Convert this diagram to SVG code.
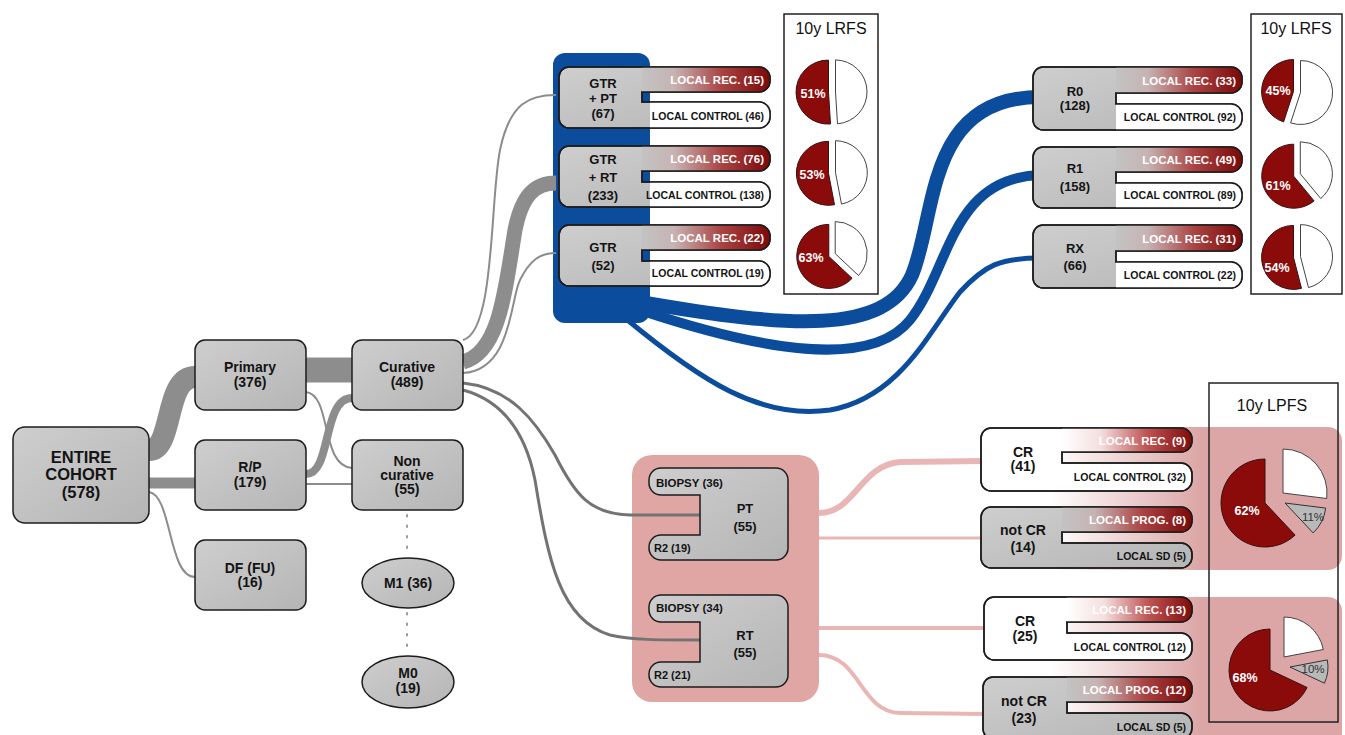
<svg xmlns="http://www.w3.org/2000/svg" width="1345" height="735" viewBox="0 0 1345 735">
<defs>
<linearGradient id="gGray" x1="0" y1="0" x2="1" y2="1"><stop offset="0" stop-color="#cecece"/><stop offset="1" stop-color="#b5b5b5"/></linearGradient>
<linearGradient id="gRecG" x1="0" y1="0" x2="1" y2="0"><stop offset="0" stop-color="#c3c3c3"/><stop offset="0.25" stop-color="#c7b3b3"/><stop offset="0.62" stop-color="#ab4343"/><stop offset="1" stop-color="#7c0909"/></linearGradient>
<linearGradient id="gRecW" x1="0" y1="0" x2="1" y2="0"><stop offset="0" stop-color="#ffffff"/><stop offset="0.3" stop-color="#f5dede"/><stop offset="0.65" stop-color="#c05454"/><stop offset="1" stop-color="#810b0b"/></linearGradient>
<linearGradient id="gBand" x1="1050" y1="0" x2="1200" y2="0" gradientUnits="userSpaceOnUse"><stop offset="0" stop-color="#dca6a6" stop-opacity="0"/><stop offset="1" stop-color="#dca6a6"/></linearGradient>
</defs>
<style>
.lbl{font-family:'Liberation Sans',Arial,Helvetica,sans-serif;font-weight:bold;text-anchor:middle;fill:#141414}
.f14{font-size:14px}
.f13{font-size:13px}
.f17{font-size:16.5px}
.sm{font-size:11.5px;text-anchor:start}
.rec{font-family:'Liberation Sans',Arial,sans-serif;font-weight:bold;font-size:11.5px;fill:#fff;text-anchor:end}
.ctl{font-family:'Liberation Sans',Arial,sans-serif;font-weight:bold;font-size:10.5px;fill:#141414;text-anchor:end}
.box{fill:url(#gGray);stroke:#1c1c1c;stroke-width:1.5}
.wbox{fill:#fff;stroke:#1c1c1c;stroke-width:1.5}
.outline{fill:none;stroke:#1c1c1c;stroke-width:1.5}
.tabR{fill:url(#gRecG)}
.tabW{fill:url(#gRecW)}
.white{fill:#fff}
.band{fill:none;stroke:#8d8d8d}
.thin{fill:none;stroke:#8c8c8c;stroke-width:2}
.dark{fill:none;stroke:#737373;stroke-width:3}
.blue{fill:none;stroke:#0b4c9c}
.pink{fill:none;stroke:#e8b7b5}
.pieR{fill:#8b0b0b;stroke:#3a1010;stroke-width:1}
.pieW{fill:#fff;stroke:#444;stroke-width:1}
.pieG{fill:#b9b9b9;stroke:#333;stroke-width:1}
.pct{font-family:'Liberation Sans',Arial,sans-serif;font-weight:bold;font-size:12.5px;fill:#fff;text-anchor:middle}
.pctd{font-family:'Liberation Sans',Arial,sans-serif;font-size:11.5px;fill:#333;text-anchor:middle}
.frame{fill:#fff;stroke:#222;stroke-width:1.5}
.title{font-family:'Liberation Sans',Arial,sans-serif;font-size:16px;fill:#111;text-anchor:middle}
.dots{stroke:#9a9a9a;stroke-width:2;stroke-dasharray:1.5 9;stroke-linecap:round}
</style>
<rect width="1345" height="735" fill="#fff"/>
<g id="backgrounds">
<rect x="1050" y="427" width="292" height="143" rx="14" fill="url(#gBand)"/>
<rect x="1050" y="597" width="292" height="150" rx="14" fill="url(#gBand)"/>
<rect x="553" y="53" width="97" height="270" rx="12" fill="#0b4c9c"/>
<rect x="632" y="455" width="187" height="247" rx="20" fill="#dfa6a3"/>
</g>
<g id="connectors">
<path class="band" stroke-width="22" d="M149,450 C174,450 164,377 195,377"/>
<path class="band" stroke-width="11" d="M149,483 H195"/>
<path class="thin" d="M149,492 C172,495 168,577 195,577"/>
<path class="band" stroke-width="25" d="M306,370 H352"/>
<path class="thin" d="M306,392 C332,395 320,466 352,468"/>
<path class="band" stroke-width="8" d="M306,474 C332,474 322,398 352,398"/>
<path class="thin" stroke-width="3" d="M306,484 H352"/>
<line class="dots" x1="407" y1="515" x2="407" y2="555"/>
<line class="dots" x1="407" y1="613" x2="407" y2="653"/>
<path class="thin" d="M463,340 C495,332 490,200 500,150 C510,102 530,95 556,95"/>
<path class="band" stroke-width="15" d="M463,362 C500,352 505,290 515,230 C522,195 535,183 556,183"/>
<path class="thin" d="M463,373 C512,370 510,300 520,280 C530,260 540,253 556,253"/>
<path class="dark" d="M463,383 C510,388 535,420 555,455 C575,495 590,514 630,515 L700,515"/>
<path class="dark" d="M463,390 C500,400 525,430 535,480 C548,560 560,620 610,635 C630,640 660,640 700,640"/>
<path class="blue" stroke-width="14" d="M640,302 C790,328 885,335 912,275 C937,215 925,97 1040,97"/>
<path class="blue" stroke-width="10" d="M640,310 C760,350 870,370 910,320 C950,270 950,178 1040,175"/>
<path class="blue" stroke-width="5" d="M625,318 C700,380 760,420 830,410 C900,398 930,330 960,292 C985,265 1000,258 1040,258"/>
<path class="pink" stroke-width="6" d="M819,513 C855,513 860,465 900,462 L985,461"/>
<path class="pink" stroke-width="3" d="M819,538 H985"/>
<path class="pink" stroke-width="4" d="M819,628 H988"/>
<path class="pink" stroke-width="4" d="M819,655 C860,655 860,712 900,713 L988,714"/>
</g>
<g id="n-entire"><rect class="box" x="13" y="427" width="136" height="96" rx="12"/>
<text class="lbl f17" x="81" y="463">ENTIRE</text><text class="lbl f17" x="81" y="480">COHORT</text><text class="lbl f17" x="81" y="498">(578)</text></g>
<g id="n-primary"><rect class="box" x="195" y="340" width="111" height="70" rx="10"/>
<text class="lbl f14" x="250" y="372">Primary</text><text class="lbl f14" x="250" y="387">(376)</text></g>
<g id="n-rp"><rect class="box" x="195" y="440" width="111" height="70" rx="10"/>
<text class="lbl f14" x="250" y="472">R/P</text><text class="lbl f14" x="250" y="487">(179)</text></g>
<g id="n-df"><rect class="box" x="195" y="540" width="111" height="70" rx="10"/>
<text class="lbl f14" x="250" y="573">DF (FU)</text><text class="lbl f14" x="250" y="587">(16)</text></g>
<g id="n-curative"><rect class="box" x="352" y="340" width="111" height="70" rx="10"/>
<text class="lbl f14" x="407" y="372">Curative</text><text class="lbl f14" x="407" y="387">(489)</text></g>
<g id="n-noncurative"><rect class="box" x="352" y="440" width="111" height="70" rx="10"/>
<text class="lbl f14" x="407" y="466">Non</text><text class="lbl f14" x="407" y="480">curative</text><text class="lbl f14" x="407" y="494">(55)</text></g>
<g id="n-m1"><ellipse class="box" cx="408" cy="583" rx="46" ry="25"/><text class="lbl f14" x="408" y="588">M1 (36)</text></g>
<g id="n-m0"><ellipse class="box" cx="408" cy="682" rx="46" ry="26"/><text class="lbl f14" x="408" y="678">M0</text><text class="lbl f14" x="408" y="693">(19)</text></g>
<g id="n-gtrpt">
<path class="box" d="M569,67 H759 A11,11 0 0 1 770,78 V81 A11,11 0 0 1 759,92 H642 V102 H759 A11,11 0 0 1 770,113 V117 A11,11 0 0 1 759,128 H569 A10,10 0 0 1 559,118 V77 A10,10 0 0 1 569,67 Z"/>
<path class="tabR" d="M642,67 H759 A11,11 0 0 1 770,78 V81 A11,11 0 0 1 759,92 H642 Z"/>
<path class="white" d="M650,102 H759 A11,11 0 0 1 770,113 V117 A11,11 0 0 1 759,128 H650 Z"/>
<path class="outline" d="M569,67 H759 A11,11 0 0 1 770,78 V81 A11,11 0 0 1 759,92 H642 V102 H759 A11,11 0 0 1 770,113 V117 A11,11 0 0 1 759,128 H569 A10,10 0 0 1 559,118 V77 A10,10 0 0 1 569,67 Z"/>
<text class="lbl f13" x="603" y="88">GTR</text><text class="lbl f13" x="603" y="103">+ PT</text><text class="lbl f13" x="603" y="118">(67)</text>
<text class="rec" x="764" y="84">LOCAL REC. (15)</text><text class="ctl" x="764" y="120">LOCAL CONTROL (46)</text></g>
<g id="n-gtrrt">
<path class="box" d="M569,146 H759 A11,11 0 0 1 770,157 V160 A11,11 0 0 1 759,171 H642 V182 H759 A11,11 0 0 1 770,193 V196 A11,11 0 0 1 759,207 H569 A10,10 0 0 1 559,197 V156 A10,10 0 0 1 569,146 Z"/>
<path class="tabR" d="M642,146 H759 A11,11 0 0 1 770,157 V160 A11,11 0 0 1 759,171 H642 Z"/>
<path class="white" d="M650,182 H759 A11,11 0 0 1 770,193 V196 A11,11 0 0 1 759,207 H650 Z"/>
<path class="outline" d="M569,146 H759 A11,11 0 0 1 770,157 V160 A11,11 0 0 1 759,171 H642 V182 H759 A11,11 0 0 1 770,193 V196 A11,11 0 0 1 759,207 H569 A10,10 0 0 1 559,197 V156 A10,10 0 0 1 569,146 Z"/>
<text class="lbl f13" x="603" y="164">GTR</text><text class="lbl f13" x="603" y="182">+ RT</text><text class="lbl f13" x="603" y="200">(233)</text>
<text class="rec" x="764" y="163">LOCAL REC. (76)</text><text class="ctl" x="764" y="199">LOCAL CONTROL (138)</text></g>
<g id="n-gtr">
<path class="box" d="M569,225 H759 A11,11 0 0 1 770,236 V239 A11,11 0 0 1 759,250 H642 V261 H759 A11,11 0 0 1 770,272 V275 A11,11 0 0 1 759,286 H569 A10,10 0 0 1 559,276 V235 A10,10 0 0 1 569,225 Z"/>
<path class="tabR" d="M642,225 H759 A11,11 0 0 1 770,236 V239 A11,11 0 0 1 759,250 H642 Z"/>
<path class="white" d="M650,261 H759 A11,11 0 0 1 770,272 V275 A11,11 0 0 1 759,286 H650 Z"/>
<path class="outline" d="M569,225 H759 A11,11 0 0 1 770,236 V239 A11,11 0 0 1 759,250 H642 V261 H759 A11,11 0 0 1 770,272 V275 A11,11 0 0 1 759,286 H569 A10,10 0 0 1 559,276 V235 A10,10 0 0 1 569,225 Z"/>
<text class="lbl f13" x="603" y="252">GTR</text><text class="lbl f13" x="603" y="270">(52)</text>
<text class="rec" x="764" y="242">LOCAL REC. (22)</text><text class="ctl" x="764" y="277">LOCAL CONTROL (19)</text></g>
<g id="n-r0">
<path class="box" d="M1043,67 H1231 A11,11 0 0 1 1242,78 V82 A11,11 0 0 1 1231,93 H1116 V104 H1231 A11,11 0 0 1 1242,115 V119 A11,11 0 0 1 1231,130 H1043 A10,10 0 0 1 1033,120 V77 A10,10 0 0 1 1043,67 Z"/>
<path class="tabR" d="M1116,67 H1231 A11,11 0 0 1 1242,78 V82 A11,11 0 0 1 1231,93 H1116 Z"/>
<path class="white" d="M1116,104 H1231 A11,11 0 0 1 1242,115 V119 A11,11 0 0 1 1231,130 H1116 Z"/>
<path class="outline" d="M1043,67 H1231 A11,11 0 0 1 1242,78 V82 A11,11 0 0 1 1231,93 H1116 V104 H1231 A11,11 0 0 1 1242,115 V119 A11,11 0 0 1 1231,130 H1043 A10,10 0 0 1 1033,120 V77 A10,10 0 0 1 1043,67 Z"/>
<text class="lbl f13" x="1075" y="96">R0</text><text class="lbl f13" x="1075" y="110">(128)</text>
<text class="rec" x="1236" y="85">LOCAL REC. (33)</text><text class="ctl" x="1236" y="121">LOCAL CONTROL (92)</text></g>
<g id="n-r1">
<path class="box" d="M1043,147 H1231 A11,11 0 0 1 1242,158 V161 A11,11 0 0 1 1231,172 H1116 V183 H1231 A11,11 0 0 1 1242,194 V197 A11,11 0 0 1 1231,208 H1043 A10,10 0 0 1 1033,198 V157 A10,10 0 0 1 1043,147 Z"/>
<path class="tabR" d="M1116,147 H1231 A11,11 0 0 1 1242,158 V161 A11,11 0 0 1 1231,172 H1116 Z"/>
<path class="white" d="M1116,183 H1231 A11,11 0 0 1 1242,194 V197 A11,11 0 0 1 1231,208 H1116 Z"/>
<path class="outline" d="M1043,147 H1231 A11,11 0 0 1 1242,158 V161 A11,11 0 0 1 1231,172 H1116 V183 H1231 A11,11 0 0 1 1242,194 V197 A11,11 0 0 1 1231,208 H1043 A10,10 0 0 1 1033,198 V157 A10,10 0 0 1 1043,147 Z"/>
<text class="lbl f13" x="1075" y="173">R1</text><text class="lbl f13" x="1075" y="191">(158)</text>
<text class="rec" x="1236" y="164">LOCAL REC. (49)</text><text class="ctl" x="1236" y="199">LOCAL CONTROL (89)</text></g>
<g id="n-rx">
<path class="box" d="M1043,225 H1231 A11,11 0 0 1 1242,236 V240 A11,11 0 0 1 1231,251 H1116 V262 H1231 A11,11 0 0 1 1242,273 V277 A11,11 0 0 1 1231,288 H1043 A10,10 0 0 1 1033,278 V235 A10,10 0 0 1 1043,225 Z"/>
<path class="tabR" d="M1116,225 H1231 A11,11 0 0 1 1242,236 V240 A11,11 0 0 1 1231,251 H1116 Z"/>
<path class="white" d="M1116,262 H1231 A11,11 0 0 1 1242,273 V277 A11,11 0 0 1 1231,288 H1116 Z"/>
<path class="outline" d="M1043,225 H1231 A11,11 0 0 1 1242,236 V240 A11,11 0 0 1 1231,251 H1116 V262 H1231 A11,11 0 0 1 1242,273 V277 A11,11 0 0 1 1231,288 H1043 A10,10 0 0 1 1033,278 V235 A10,10 0 0 1 1043,225 Z"/>
<text class="lbl f13" x="1075" y="253">RX</text><text class="lbl f13" x="1075" y="270">(66)</text>
<text class="rec" x="1236" y="243">LOCAL REC. (31)</text><text class="ctl" x="1236" y="279">LOCAL CONTROL (22)</text></g>
<g id="n-pt">
<path class="box" d="M661,468 H776 A12,12 0 0 1 788,480 V548 A12,12 0 0 1 776,560 H661 A12,12 0 0 1 649,548 V547 A12,12 0 0 1 661,535 H700 V495 H661 A12,12 0 0 1 649,483 V480 A12,12 0 0 1 661,468 Z"/>
<text class="lbl sm" x="656" y="487">BIOPSY (36)</text><text class="lbl sm" x="654" y="552" style="font-size:11px">R2 (19)</text>
<text class="lbl f13" x="745" y="513">PT</text><text class="lbl f13" x="745" y="531">(55)</text></g>
<g id="n-rt">
<path class="box" d="M661,595 H776 A12,12 0 0 1 788,607 V675 A12,12 0 0 1 776,687 H661 A12,12 0 0 1 649,675 V674 A12,12 0 0 1 661,662 H700 V622 H661 A12,12 0 0 1 649,610 V607 A12,12 0 0 1 661,595 Z"/>
<text class="lbl sm" x="656" y="612">BIOPSY (34)</text><text class="lbl sm" x="654" y="679" style="font-size:11px">R2 (21)</text>
<text class="lbl f13" x="745" y="640">RT</text><text class="lbl f13" x="745" y="657">(55)</text></g>
<g id="n-cr41">
<path class="wbox" d="M991,428 H1181 A11,11 0 0 1 1192,439 V441 A11,11 0 0 1 1181,452 H1062 V463 H1181 A11,11 0 0 1 1192,474 V480 A11,11 0 0 1 1181,491 H991 A10,10 0 0 1 981,481 V438 A10,10 0 0 1 991,428 Z"/>
<path class="tabW" d="M1062,428 H1181 A11,11 0 0 1 1192,439 V441 A11,11 0 0 1 1181,452 H1062 Z"/>
<path class="outline" d="M991,428 H1181 A11,11 0 0 1 1192,439 V441 A11,11 0 0 1 1181,452 H1062 V463 H1181 A11,11 0 0 1 1192,474 V480 A11,11 0 0 1 1181,491 H991 A10,10 0 0 1 981,481 V438 A10,10 0 0 1 991,428 Z"/>
<text class="lbl f14" x="1023" y="457">CR</text><text class="lbl f14" x="1023" y="471">(41)</text>
<text class="rec" x="1186" y="445">LOCAL REC. (9)</text><text class="ctl" x="1186" y="481">LOCAL CONTROL (32)</text></g>
<g id="n-ncr14">
<path class="box" d="M991,507 H1181 A11,11 0 0 1 1192,518 V521 A11,11 0 0 1 1181,532 H1062 V543 H1181 A11,11 0 0 1 1192,554 V557 A11,11 0 0 1 1181,568 H991 A10,10 0 0 1 981,558 V517 A10,10 0 0 1 991,507 Z"/>
<path class="tabR" d="M1062,507 H1181 A11,11 0 0 1 1192,518 V521 A11,11 0 0 1 1181,532 H1062 Z"/>
<path class="outline" d="M991,507 H1181 A11,11 0 0 1 1192,518 V521 A11,11 0 0 1 1181,532 H1062 V543 H1181 A11,11 0 0 1 1192,554 V557 A11,11 0 0 1 1181,568 H991 A10,10 0 0 1 981,558 V517 A10,10 0 0 1 991,507 Z"/>
<text class="lbl f14" x="1023" y="535">not CR</text><text class="lbl f14" x="1023" y="552">(14)</text>
<text class="rec" x="1186" y="524">LOCAL PROG. (8)</text><text class="ctl" x="1186" y="560">LOCAL SD (5)</text></g>
<g id="n-cr25">
<path class="wbox" d="M994,597 H1181 A11,11 0 0 1 1192,608 V611 A11,11 0 0 1 1181,622 H1067 V633 H1181 A11,11 0 0 1 1192,644 V649 A11,11 0 0 1 1181,660 H994 A10,10 0 0 1 984,650 V607 A10,10 0 0 1 994,597 Z"/>
<path class="tabW" d="M1067,597 H1181 A11,11 0 0 1 1192,608 V611 A11,11 0 0 1 1181,622 H1067 Z"/>
<path class="outline" d="M994,597 H1181 A11,11 0 0 1 1192,608 V611 A11,11 0 0 1 1181,622 H1067 V633 H1181 A11,11 0 0 1 1192,644 V649 A11,11 0 0 1 1181,660 H994 A10,10 0 0 1 984,650 V607 A10,10 0 0 1 994,597 Z"/>
<text class="lbl f14" x="1025" y="626">CR</text><text class="lbl f14" x="1025" y="641">(25)</text>
<text class="rec" x="1186" y="614">LOCAL REC. (13)</text><text class="ctl" x="1186" y="651">LOCAL CONTROL (12)</text></g>
<g id="n-ncr23">
<path class="box" d="M993,677 H1181 A11,11 0 0 1 1192,688 V691 A11,11 0 0 1 1181,702 H1067 V713 H1181 A11,11 0 0 1 1192,724 V728 A11,11 0 0 1 1181,739 H993 A10,10 0 0 1 983,729 V687 A10,10 0 0 1 993,677 Z"/>
<path class="tabR" d="M1067,677 H1181 A11,11 0 0 1 1192,688 V691 A11,11 0 0 1 1181,702 H1067 Z"/>
<path class="outline" d="M993,677 H1181 A11,11 0 0 1 1192,688 V691 A11,11 0 0 1 1181,702 H1067 V713 H1181 A11,11 0 0 1 1192,724 V728 A11,11 0 0 1 1181,739 H993 A10,10 0 0 1 983,729 V687 A10,10 0 0 1 993,677 Z"/>
<text class="lbl f14" x="1024" y="706">not CR</text><text class="lbl f14" x="1024" y="723">(23)</text>
<text class="rec" x="1186" y="694">LOCAL PROG. (12)</text><text class="ctl" x="1186" y="731">LOCAL SD (5)</text></g>
<g id="lrfs1">
<rect class="frame" x="784" y="14" width="94" height="280"/>
<text class="title" x="831" y="34">10y LRFS</text>
<path class="pieR" d="M828.5,92.1 L830.5,124 A32,32 0 1 1 828.5,60.1 Z"/>
<path class="pieW" d="M835.5,91.9 L835.5,59.9 A32,32 0 0 1 837.5,123.8 Z"/>
<path class="pieR" d="M828.5,173.3 L834.5,204.7 A32,32 0 1 1 828.5,141.3 Z"/>
<path class="pieW" d="M835.5,172.7 L835.5,140.7 A32,32 0 0 1 841.5,204.1 Z"/>
<path class="pieR" d="M828.8,256.4 L852.1,278.3 A32,32 0 1 1 828.8,224.4 Z"/>
<path class="pieW" d="M835.2,253.6 L835.2,221.6 A32,32 0 0 1 858.5,275.5 Z"/>
<text class="pct" x="813" y="98">51%</text><text class="pct" x="812" y="179">53%</text><text class="pct" x="811" y="262">63%</text>
</g>
<g id="lrfs2">
<rect class="frame" x="1251" y="14" width="91" height="280"/>
<text class="title" x="1296" y="34">10y LRFS</text>
<path class="pieR" d="M1293.5,91.5 L1283.6,121.9 A32,32 0 0 1 1293.5,59.5 Z"/>
<path class="pieW" d="M1300.5,92.5 L1300.5,60.5 A32,32 0 1 1 1290.6,122.9 Z"/>
<path class="pieR" d="M1293.7,176.2 L1314.1,200.9 A32,32 0 1 1 1293.7,144.2 Z"/>
<path class="pieW" d="M1300.3,173.8 L1300.3,141.8 A32,32 0 0 1 1320.7,198.5 Z"/>
<path class="pieR" d="M1293.5,257.4 L1301.5,288.4 A32,32 0 1 1 1293.5,225.4 Z"/>
<path class="pieW" d="M1300.5,256.6 L1300.5,224.6 A32,32 0 0 1 1308.5,287.6 Z"/>
<text class="pct" x="1278" y="95">45%</text><text class="pct" x="1278" y="190">61%</text><text class="pct" x="1277" y="272">54%</text>
</g>
<g id="lpfs">
<rect x="1209" y="383" width="129" height="339" fill="none" stroke="#222" stroke-width="1.5"/>
<text class="title" x="1272" y="411">10y LPFS</text>
<path class="pieR" d="M1265,503 L1295.1,535.1 A44,44 0 1 1 1265,459 Z"/>
<path class="pieW" d="M1283,493 L1283,449 A44,44 0 0 1 1326.7,498.5 Z"/>
<path class="pieG" d="M1285,503 L1325.7,508.1 A41,41 0 0 1 1313.1,532.9 Z"/>
<path class="pieR" d="M1270,670 L1307.1,687.5 A41,41 0 1 1 1270,629 Z"/>
<path class="pieW" d="M1284,657 L1284,617 A40,40 0 0 1 1323.3,649.5 Z"/>
<path class="pieG" d="M1290,667 L1327.3,659.9 A38,38 0 0 1 1324.4,683.2 Z"/>
<text class="pct" x="1247" y="515">62%</text><text class="pctd" x="1313" y="521">11%</text>
<text class="pct" x="1245" y="682">68%</text><text class="pctd" x="1313" y="673">10%</text>
</g>
</svg>
